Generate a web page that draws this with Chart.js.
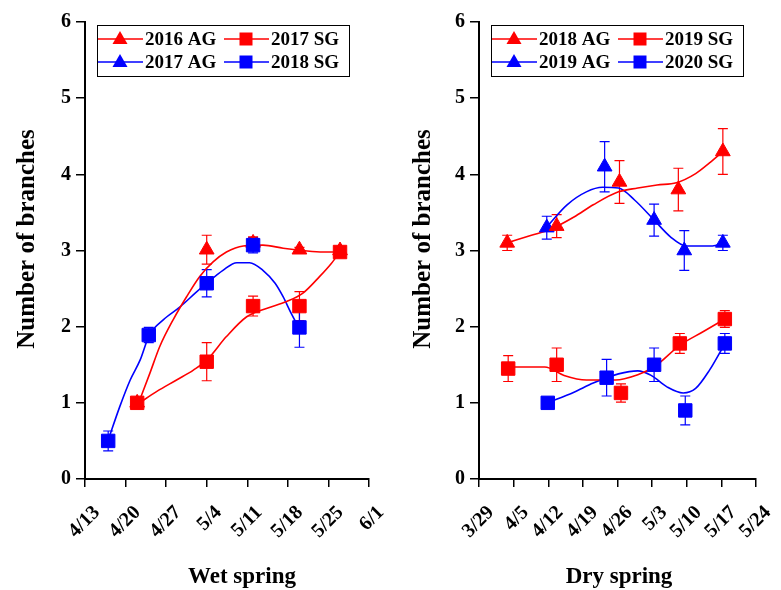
<!DOCTYPE html>
<html>
<head>
<meta charset="utf-8">
<script src="https://cdn.jsdelivr.net/npm/chart.js@4.4.1/dist/chart.umd.min.js"></script>
<style>
html, body { margin: 0; padding: 0; background: #fff; }
#wrap { position: relative; width: 781px; height: 590px; }
.panel { position: absolute; top: 0; height: 590px; }
#p1 { left: 0; width: 390px; }
#p2 { left: 390px; width: 391px; }
</style>
</head>
<body>
<div id="wrap">
  <div class="panel" id="p1"><canvas id="wet"></canvas></div>
  <div class="panel" id="p2"><canvas id="dry"></canvas></div>
</div>
<script>
// x = days after first tick date (4/13 for wet spring, 3/29 for dry spring)
const wetTicks = ['4/13', '4/20', '4/27', '5/4', '5/11', '5/18', '5/25', '6/1'];
const dryTicks = ['3/29', '4/5', '4/12', '4/19', '4/26', '5/3', '5/10', '5/17', '5/24'];

// ---- Wet spring : measured points ----
const ag2016Days = [9, 21, 29, 37, 44];
const ag2016Vals = [1.0, 3.01, 3.1, 3.01, 3.0];
const ag2016Err  = [0.03, 0.19, 0.08, 0.03, 0.05];

const sg2017Days = [9, 21, 29, 37, 44];
const sg2017Vals = [1.0, 1.54, 2.27, 2.27, 2.98];
const sg2017Err  = [0.03, 0.25, 0.13, 0.19, 0.03];

const sg2018Days = [4, 11, 21, 29, 37];
const sg2018Vals = [0.5, 1.89, 2.57, 3.07, 1.99];
const sg2018Err  = [0.13, 0.1, 0.18, 0.1, 0.26];

// ---- Wet spring : fitted curves ----
const ag2016FitDays = [9.2, 11.2, 12.9, 15.2, 17.5, 19.8, 22.1, 24.4, 27.3, 30.7, 34.2, 37.6, 41.1, 44];
const ag2016FitVals = [0.99, 1.39, 1.74, 2.09, 2.39, 2.66, 2.85, 2.98, 3.06, 3.07, 3.03, 3.0, 2.98, 2.98];

const sg2017FitDays = [9.2, 12.4, 15.8, 18.7, 21, 24.4, 27.9, 31.3, 34.8, 37.6, 40.5, 42.5, 44];
const sg2017FitVals = [0.99, 1.15, 1.3, 1.43, 1.56, 1.87, 2.13, 2.24, 2.33, 2.44, 2.66, 2.83, 2.98];

const sg2018FitDays = [4, 6, 7.8, 9.5, 11.1, 13.5, 16.4, 19.3, 21, 23.8, 26.2, 28.4, 30.7, 32.8, 34.2, 35.6, 36.8];
const sg2018FitVals = [0.51, 0.95, 1.3, 1.56, 1.89, 2.09, 2.26, 2.46, 2.57, 2.74, 2.84, 2.84, 2.74, 2.57, 2.39, 2.17, 2.0];

// ---- Dry spring : measured points ----
const ag2018Days = [5.7, 15.7, 28.4, 40.3, 49.3];
const ag2018Vals = [3.1, 3.32, 3.9, 3.8, 4.3];
const ag2018Err  = [0.1, 0.15, 0.28, 0.28, 0.3];

const ag2019Days = [13.7, 25.4, 35.4, 41.5, 49.3];
const ag2019Vals = [3.3, 4.1, 3.4, 3.0, 3.1];
const ag2019Err  = [0.15, 0.33, 0.21, 0.26, 0.1];

const sg2019Days = [5.9, 15.7, 28.7, 40.6, 49.7];
const sg2019Vals = [1.45, 1.5, 1.13, 1.78, 2.1];
const sg2019Err  = [0.17, 0.22, 0.12, 0.13, 0.11];

const sg2020Days = [13.9, 25.8, 35.4, 41.7, 49.7];
const sg2020Vals = [1.0, 1.33, 1.5, 0.9, 1.78];
const sg2020Err  = [0, 0.24, 0.22, 0.19, 0.13];

// ---- Dry spring : fitted curves ----
const ag2018FitDays = [5.7, 10.6, 14.5, 19.2, 23.1, 28.2, 32.1, 36, 39.9, 43.8, 46.6, 49.3];
const ag2018FitVals = [3.1, 3.2, 3.28, 3.44, 3.6, 3.77, 3.82, 3.86, 3.89, 4.01, 4.15, 4.3];

const ag2019FitDays = [13.7, 17.8, 21.7, 25, 28.2, 31.5, 35.4, 38.7, 41.9, 47.2, 49.3];
const ag2019FitVals = [3.31, 3.6, 3.77, 3.83, 3.82, 3.66, 3.4, 3.18, 3.06, 3.06, 3.1];

const sg2019FitDays = [5.9, 13.3, 17.2, 21.7, 27.6, 32.1, 35.4, 40.7, 45.2, 49.7];
const sg2019FitVals = [1.47, 1.47, 1.36, 1.3, 1.3, 1.37, 1.47, 1.76, 1.93, 2.1];

const sg2020FitDays = [13.9, 19.2, 23.1, 28.2, 32.1, 34.8, 38, 41.3, 43.8, 46.6, 49.3];
const sg2020FitVals = [1.0, 1.14, 1.26, 1.38, 1.42, 1.36, 1.21, 1.13, 1.19, 1.43, 1.73];

const RED = '#ff0000';
const BLUE = '#0000ff';
const FONT = '"Liberation Serif", "Times New Roman", serif';

function pts(xs, ys) {
    return xs.map((x, i) => ({ x: x, y: ys[i] }));
}

function markers(label, xs, ys, errs, color, shape) {
    return {
        type: 'scatter',
        label: label,
        data: pts(xs, ys),
        errorBars: errs,
        showLine: false,
        pointStyle: shape,
        pointRadius: shape === 'rect' ? 9.5 : 8.5,
        pointBackgroundColor: color,
        pointBorderColor: color,
        pointBorderWidth: 1,
        order: 1
    };
}

function curve(xs, ys, color) {
    return {
        type: 'line',
        data: pts(xs, ys),
        borderColor: color,
        borderWidth: 1.6,
        pointRadius: 0,
        cubicInterpolationMode: 'monotone',
        fill: false,
        order: 2
    };
}

// error bars drawn through the chart scales
const errorBarPlugin = {
    id: 'errorBars',
    beforeDatasetsDraw(chart) {
        const ctx = chart.ctx;
        const xs = chart.scales.x, ys = chart.scales.y;
        chart.data.datasets.forEach(ds => {
            if (!ds.errorBars) return;
            ctx.save();
            ctx.strokeStyle = ds.pointBackgroundColor;
            ctx.lineWidth = 1.2;
            ds.data.forEach((p, i) => {
                const e = ds.errorBars[i];
                if (!e) return;
                const px = xs.getPixelForValue(p.x);
                const top = ys.getPixelForValue(p.y + e);
                const bot = ys.getPixelForValue(p.y - e);
                ctx.beginPath();
                ctx.moveTo(px, top); ctx.lineTo(px, bot);
                ctx.moveTo(px - 5, top); ctx.lineTo(px + 5, top);
                ctx.moveTo(px - 5, bot); ctx.lineTo(px + 5, bot);
                ctx.stroke();
            });
            ctx.restore();
        });
    }
};

// boxed legend with line + marker samples, plus the axis titles
const boxLegendPlugin = {
    id: 'boxLegend',
    afterDraw(chart, args, opts) {
        const ctx = chart.ctx;
        const a = chart.chartArea;
        const bx = a.left + 12, by = a.top + 3, bw = 252, bh = 51;
        ctx.save();
        ctx.strokeStyle = '#000';
        ctx.lineWidth = 1;
        ctx.strokeRect(bx + 0.5, by + 0.5, bw, bh);
        opts.items.forEach((it, i) => {
            const col = i % 2, row = Math.floor(i / 2);
            const x0 = bx + (col ? 126 : 0);
            const y = by + 14 + row * 23;
            ctx.strokeStyle = it.color;
            ctx.lineWidth = 1.6;
            ctx.beginPath();
            ctx.moveTo(x0 + 1, y); ctx.lineTo(x0 + 46, y);
            ctx.stroke();
            ctx.fillStyle = it.color;
            const mx = x0 + 23;
            ctx.beginPath();
            if (it.shape === 'rect') {
                ctx.rect(mx - 6.5, y - 6.5, 13, 13);
            } else {
                ctx.moveTo(mx, y - 8);
                ctx.lineTo(mx + 7.5, y + 5);
                ctx.lineTo(mx - 7.5, y + 5);
                ctx.closePath();
            }
            ctx.fill();
            ctx.fillStyle = '#000';
            ctx.font = 'bold 19px ' + FONT;
            ctx.textBaseline = 'middle';
            ctx.textAlign = 'left';
            ctx.fillText(it.text, x0 + 48, y + 1);
        });

        // axis titles
        ctx.fillStyle = '#000';
        ctx.textAlign = 'center';
        ctx.textBaseline = 'middle';
        ctx.font = 'bold 23px ' + FONT;
        ctx.fillText(opts.xTitle.text, opts.xTitle.x, opts.xTitle.y);
        ctx.translate(opts.yTitle.x, opts.yTitle.y);
        ctx.rotate(-Math.PI / 2);
        ctx.font = 'bold 25px ' + FONT;
        ctx.fillText(opts.yTitle.text, 0, 0);
        ctx.restore();
    }
};

function makeOptions(tickLabels, maxDay, yWidth, rightPad, legendItems, xTitle, yTitle) {
    return {
        responsive: true,
        maintainAspectRatio: false,
        animation: false,
        layout: { padding: { left: 0, top: 22, right: rightPad, bottom: 0 } },
        plugins: {
            legend: { display: false },
            tooltip: { enabled: false },
            boxLegend: { items: legendItems, xTitle: xTitle, yTitle: yTitle }
        },
        scales: {
            x: {
                type: 'linear',
                min: 0,
                max: maxDay,
                afterFit(scale) {
                    scale.height = 111;
                    scale.paddingLeft = 0;
                    scale.paddingRight = 0;
                },
                ticks: {
                    stepSize: 7,
                    autoSkip: false,
                    minRotation: 45,
                    maxRotation: 45,
                    color: '#000',
                    padding: 14,
                    labelOffset: 12,
                    font: { family: FONT, size: 20, weight: 'bold' },
                    callback: v => tickLabels[Math.round(v / 7)]
                },
                grid: { drawOnChartArea: false, color: '#000', tickLength: 8, lineWidth: 1.5 },
                border: { color: '#000', width: 2 }
            },
            y: {
                min: 0,
                max: 6,
                afterFit(scale) {
                    scale.width = yWidth;
                    scale.paddingTop = 0;
                    scale.paddingBottom = 0;
                },
                ticks: {
                    stepSize: 1,
                    color: '#000',
                    padding: 5,
                    font: { family: FONT, size: 20, weight: 'bold' }
                },
                grid: { drawOnChartArea: false, color: '#000', tickLength: 9, lineWidth: 1.5 },
                border: { color: '#000', width: 2 }
            }
        }
    };
}

new Chart(document.getElementById('wet'), {
    data: {
        datasets: [
            markers('2017 SG', sg2017Days, sg2017Vals, sg2017Err, RED, 'rect'),
            markers('2018 SG', sg2018Days, sg2018Vals, sg2018Err, BLUE, 'rect'),
            markers('2016 AG', ag2016Days, ag2016Vals, ag2016Err, RED, 'triangle'),
            curve(ag2016FitDays, ag2016FitVals, RED),
            curve(sg2017FitDays, sg2017FitVals, RED),
            curve(sg2018FitDays, sg2018FitVals, BLUE)
        ]
    },
    options: makeOptions(wetTicks, 49, 85, 21, [
        { text: '2016 AG', color: RED, shape: 'triangle' },
        { text: '2017 SG', color: RED, shape: 'rect' },
        { text: '2017 AG', color: BLUE, shape: 'triangle' },
        { text: '2018 SG', color: BLUE, shape: 'rect' }
    ], { text: 'Wet spring', x: 242, y: 577 }, { text: 'Number of branches', x: 28, y: 239 }),
    plugins: [errorBarPlugin, boxLegendPlugin]
});

new Chart(document.getElementById('dry'), {
    data: {
        datasets: [
            markers('2019 SG', sg2019Days, sg2019Vals, sg2019Err, RED, 'rect'),
            markers('2020 SG', sg2020Days, sg2020Vals, sg2020Err, BLUE, 'rect'),
            markers('2018 AG', ag2018Days, ag2018Vals, ag2018Err, RED, 'triangle'),
            markers('2019 AG', ag2019Days, ag2019Vals, ag2019Err, BLUE, 'triangle'),
            curve(ag2018FitDays, ag2018FitVals, RED),
            curve(ag2019FitDays, ag2019FitVals, BLUE),
            curve(sg2019FitDays, sg2019FitVals, RED),
            curve(sg2020FitDays, sg2020FitVals, BLUE)
        ]
    },
    options: makeOptions(dryTicks, 56, 89, 25, [
        { text: '2018 AG', color: RED, shape: 'triangle' },
        { text: '2019 SG', color: RED, shape: 'rect' },
        { text: '2019 AG', color: BLUE, shape: 'triangle' },
        { text: '2020 SG', color: BLUE, shape: 'rect' }
    ], { text: 'Dry spring', x: 229, y: 577 }, { text: 'Number of branches', x: 34, y: 239 }),
    plugins: [errorBarPlugin, boxLegendPlugin]
});
</script>
</body>
</html>
